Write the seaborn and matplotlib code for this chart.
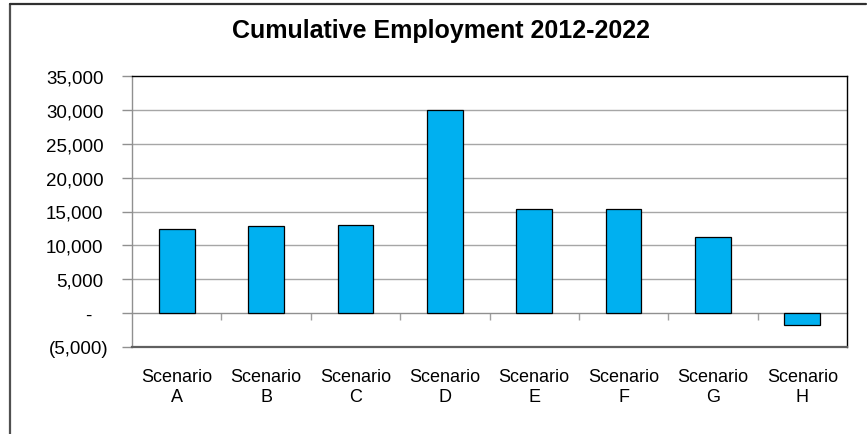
import matplotlib
matplotlib.use("Agg")
import matplotlib.pyplot as plt
import matplotlib.transforms as mtransforms
from matplotlib.lines import Line2D
from matplotlib.ticker import FixedLocator
import seaborn as sns
import pandas as pd

# Cumulative employment by scenario
scenarios = ["Scenario\nA", "Scenario\nB", "Scenario\nC", "Scenario\nD",
             "Scenario\nE", "Scenario\nF", "Scenario\nG", "Scenario\nH"]
employment = [12400, 12800, 12950, 30000, 15300, 15400, 11200, -1800]
y_ticks = [-5000, 0, 5000, 10000, 15000, 20000, 25000, 30000, 35000]
y_labels = ["(5,000)", "-", "5,000", "10,000", "15,000", "20,000",
            "25,000", "30,000", "35,000"]
title = "Cumulative Employment 2012-2022"

sns.set_theme(style="white")
plt.rcParams["font.family"] = ["Liberation Sans", "DejaVu Sans"]

df = pd.DataFrame({"scenario": scenarios, "employment": employment})

fig = plt.figure(figsize=(8.67, 4.35), dpi=100)
ax = fig.add_axes([132 / 867, 87 / 435, 715 / 867, 271 / 435])

sns.barplot(data=df, x="scenario", y="employment", color="#00B0F0",
            saturation=1, width=0.4, edgecolor="black", linewidth=0.9,
            ax=ax, zorder=3)

ymin, ymax = y_ticks[0], y_ticks[-1]
ax.set_ylim(ymin, ymax)
ax.set_xlim(-0.5, len(scenarios) - 0.5)
ax.set_xlabel("")
ax.set_ylabel("")

# gridlines (zero line handled by the secondary axis)
ax.yaxis.set_major_locator(FixedLocator(y_ticks))
ax.set_yticklabels(y_labels, fontsize=13.5, color="black")
for t in y_ticks:
    if ymin < t < ymax and t != 0:
        ax.axhline(t, color="#a6a6a6", lw=1.0, zorder=1)

ax.tick_params(axis="y", which="major", direction="out", length=7,
               width=1, color="#909090", pad=10, left=True)
ax.tick_params(axis="x", which="major", length=0, pad=15, labelsize=13,
               labelcolor="black")
for lbl in ax.get_xticklabels():
    lbl.set_linespacing(1.25)

# accounting-style alignment of the y labels
for lbl, text in zip(ax.get_yticklabels(), y_labels):
    if text.startswith("("):
        dx = 0
    elif text == "-":
        dx = -17
    else:
        dx = -5
    lbl.set_transform(lbl.get_transform() +
                      mtransforms.ScaledTranslation(dx / 100, 0, fig.dpi_scale_trans))

# plot-area frame
ax.spines["top"].set_color("black")
ax.spines["top"].set_linewidth(1.0)
ax.spines["right"].set_color("black")
ax.spines["right"].set_linewidth(1.0)
ax.spines["left"].set_color("#909090")
ax.spines["left"].set_linewidth(1.0)
ax.spines["bottom"].set_color("#606060")
ax.spines["bottom"].set_linewidth(1.6)

# zero axis with category separator ticks
zero_frac = (0 - ymin) / (ymax - ymin)
sec = ax.secondary_xaxis(zero_frac)
sec.set_xticks([i + 0.5 for i in range(len(scenarios) - 1)])
sec.set_xticklabels([])
sec.tick_params(axis="x", direction="out", length=5, width=1, color="#a0a0a0")
sec.spines["bottom"].set_color("#909090")
sec.spines["bottom"].set_linewidth(1.0)
for s in ["top", "left", "right"]:
    sec.spines[s].set_visible(False)

fig.text(0.509, 1 - 31 / 435, title, ha="center", va="center",
         fontsize=18, fontweight="bold", color="black")

# outer chart border (left and top edges)
fig.add_artist(Line2D([10 / 867, 10 / 867], [0, 1 - 5 / 435],
                      transform=fig.transFigure, color="#505050", lw=1.6))
fig.add_artist(Line2D([10 / 867, 866 / 867], [1 - 5 / 435, 1 - 5 / 435],
                      transform=fig.transFigure, color="#303030", lw=1.6))

fig.savefig("out.png", dpi=100, facecolor="white")
